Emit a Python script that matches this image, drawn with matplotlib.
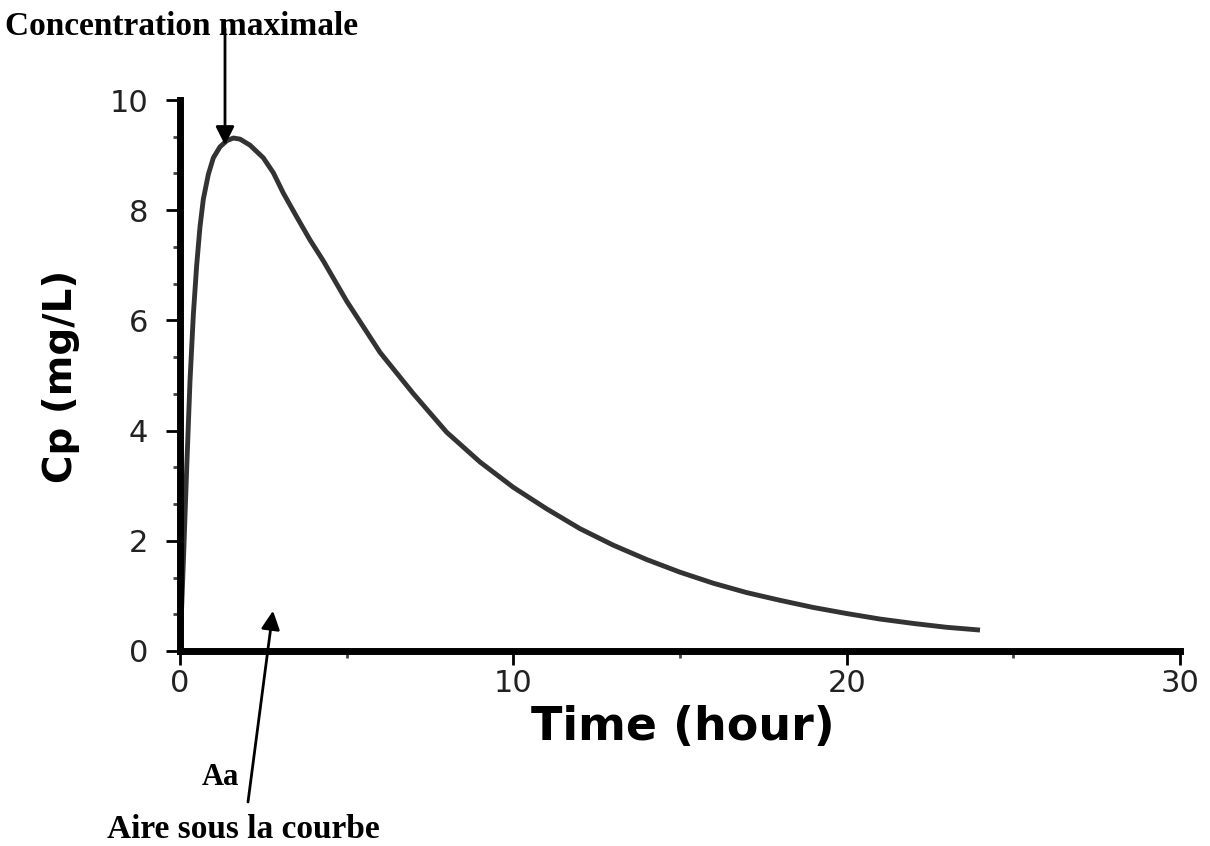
import matplotlib

matplotlib.use("Agg")
import matplotlib.pyplot as plt
from matplotlib.ticker import MultipleLocator

# Concentration-time curve
TIME_H = [0, 0.1, 0.2, 0.3, 0.4, 0.5, 0.6, 0.7, 0.85, 1.0, 1.2, 1.4, 1.6, 1.8, 2.1,
          2.5, 2.8, 3.1, 3.5, 3.9, 4.3, 5, 6, 7, 8, 9, 10, 11, 12, 13, 14, 15, 16,
          17, 18, 19, 20, 21, 22, 23, 24]
CP_MG_L = [0, 1.6, 3.3, 4.9, 6.1, 7.0, 7.7, 8.2, 8.65, 8.95, 9.15, 9.26, 9.31, 9.29, 9.18,
           8.95, 8.68, 8.31, 7.88, 7.46, 7.08, 6.35, 5.42, 4.67, 3.97, 3.43, 2.97, 2.58,
           2.22, 1.92, 1.66, 1.43, 1.23, 1.06, 0.92, 0.79, 0.68, 0.58, 0.50, 0.43, 0.38]

X_TICKS = [0, 10, 20, 30]
Y_TICKS = [0, 2, 4, 6, 8, 10]

W, H = 1210, 846


def fx(px):
    return px / W


def fy(py):
    return 1 - py / H


fig = plt.figure(figsize=(12.1, 8.46), dpi=100, facecolor="white")
ax = fig.add_axes([fx(180), fy(651), fx(1180) - fx(180), fy(100) - fy(651)])

ax.plot(TIME_H, CP_MG_L, color="#333333", linewidth=3.5, solid_capstyle="butt",
        solid_joinstyle="round", zorder=2)

ax.set_xlim(0, 30)
ax.set_ylim(0, 10)
ax.set_xticks(X_TICKS)
ax.set_yticks(Y_TICKS)
ax.xaxis.set_minor_locator(MultipleLocator(5))
ax.yaxis.set_minor_locator(MultipleLocator(2 / 3))

for side in ("top", "right"):
    ax.spines[side].set_visible(False)
for side in ("left", "bottom"):
    ax.spines[side].set_linewidth(5)
    ax.spines[side].set_color("black")
    ax.spines[side].set_zorder(3)

ax.tick_params(axis="both", which="major", direction="out", length=10, width=2,
               colors="black", labelsize=22, labelcolor="#222222")
ax.tick_params(axis="both", which="minor", direction="out", length=5, width=2, colors="#444444")
ax.tick_params(axis="x", which="major", pad=3)
ax.tick_params(axis="y", which="major", pad=13)
for lab in ax.get_xticklabels() + ax.get_yticklabels():
    lab.set_family("DejaVu Sans")

ax.set_xlabel("Time (hour)", fontsize=33, fontweight="bold", family="DejaVu Sans")
ax.xaxis.set_label_coords((683 - 180) / 1000, -(705 - 651) / 551)
ax.set_ylabel("Cp (mg/L)", fontsize=28, fontweight="bold", family="DejaVu Sans")
ax.yaxis.set_label_coords(-(180 - 80) / 1000, (651 - 376) / 551)

# arrows
ax.annotate("", xy=(1.35, 9.18), xytext=(1.35, 11.3), xycoords="data",
            annotation_clip=False,
            arrowprops=dict(arrowstyle="-|>", color="black", lw=2, mutation_scale=28,
                            shrinkA=0, shrinkB=0))
ax.annotate("", xy=(2.79, 0.73), xytext=(2.04, -2.74), xycoords="data",
            annotation_clip=False,
            arrowprops=dict(arrowstyle="-|>", color="black", lw=2, mutation_scale=28,
                            shrinkA=0, shrinkB=0))

serif = dict(family="Liberation Serif", fontweight="bold", color="black", va="baseline")
fig.text(fx(5), fy(35), "Concentration maximale", fontsize=24, **serif)
fig.text(fx(202), fy(785), "Aa", fontsize=22, **serif)
fig.text(fx(107), fy(838), "Aire sous la courbe", fontsize=24, **serif)

fig.savefig("out.png", dpi=100, facecolor="white")
